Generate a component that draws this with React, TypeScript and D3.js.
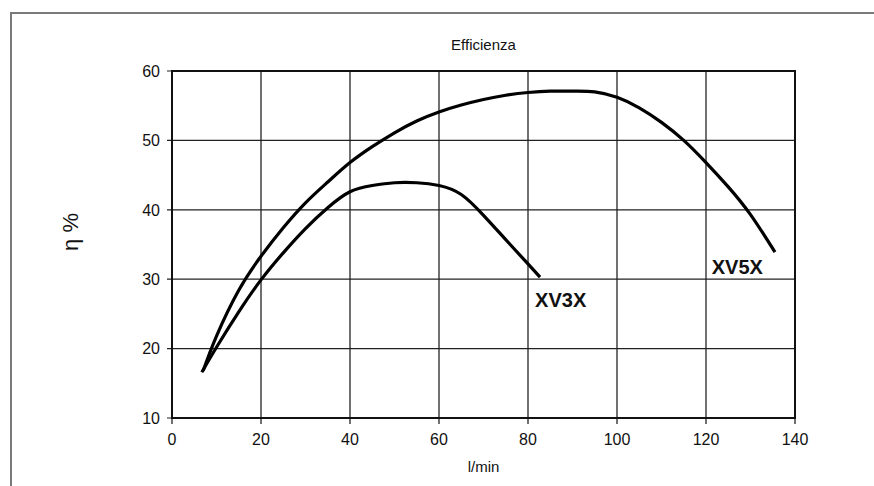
import React from "react";
import * as d3 from "d3";

// flow (l/min) and efficiency (%)
const xv3xFlow = [6.7, 10, 15, 20, 25, 30, 35, 40, 45, 50, 55, 60, 65, 70, 75, 80, 82.7];
const xv3xEta = [16.6, 20.2, 25.3, 29.9, 33.8, 37.3, 40.3, 42.6, 43.5, 43.9, 43.9, 43.5, 42.2, 39.2, 35.7, 32.2, 30.3];

const xv5xFlow = [7, 10, 15, 20, 25, 30, 35, 40, 45, 50, 55, 60, 65, 70, 75, 80, 85, 90, 95, 100, 105, 110, 115, 120, 125, 130, 135.5];
const xv5xEta = [16.8, 21.8, 28.4, 33.3, 37.4, 41.0, 44.0, 46.8, 49.1, 51.1, 52.8, 54.1, 55.1, 55.9, 56.5, 56.9, 57.1, 57.1, 57.0, 56.2, 54.7, 52.6, 50.0, 46.8, 43.3, 39.3, 33.9];

const xTicks = [0, 20, 40, 60, 80, 100, 120, 140];
const yTicks = [10, 20, 30, 40, 50, 60];

const seriesLabels = [
  { name: "XV3X", flow: 81.6, eta: 26.0 },
  { name: "XV5X", flow: 121.3, eta: 30.8 },
];

const W = 874;
const H = 486;
const left = 172, right = 795, top = 71, bottom = 418;

export default function App() {
  const x = d3.scaleLinear().domain([0, 140]).range([left, right]);
  const y = d3.scaleLinear().domain([10, 60]).range([bottom, top]);

  const line = d3
    .line<[number, number]>()
    .x((d) => x(d[0]))
    .y((d) => y(d[1]))
    .curve(d3.curveNatural);

  const xv3x = line(xv3xFlow.map((f, i) => [f, xv3xEta[i]] as [number, number]));
  const xv5x = line(xv5xFlow.map((f, i) => [f, xv5xEta[i]] as [number, number]));

  const font = "'Liberation Sans', Arial, sans-serif";

  return (
    <svg
      width={W}
      height={H}
      style={{ position: "absolute", left: 0, top: 0, background: "#fff" }}
      fontFamily={font}
    >
      <rect x={11} y={13} width={900} height={520} fill="none" stroke="#7a7a7a" strokeWidth={2} />

      {/* grid */}
      {xTicks.map((t) => (
        <line key={"gx" + t} x1={x(t)} x2={x(t)} y1={top} y2={bottom + 6} stroke="#111" strokeWidth={1.2} />
      ))}
      {yTicks.map((t) => (
        <line key={"gy" + t} x1={left - 5} x2={right} y1={y(t)} y2={y(t)} stroke="#222" strokeWidth={1.2} />
      ))}
      <rect x={left} y={top} width={right - left} height={bottom - top} fill="none" stroke="#111" strokeWidth={2} />

      {/* tick labels */}
      {yTicks.map((t) => (
        <text key={"ty" + t} x={left - 12} y={y(t)} dy="0.36em" textAnchor="end" fontSize={16} fill="#111">
          {t}
        </text>
      ))}
      {xTicks.map((t) => (
        <text key={"tx" + t} x={x(t)} y={bottom + 27} textAnchor="middle" fontSize={16} fill="#111">
          {t}
        </text>
      ))}

      <text x={(left + right) / 2} y={50} textAnchor="middle" fontSize={15} fill="#111">
        Efficienza
      </text>
      <text x={(left + right) / 2} y={472} textAnchor="middle" fontSize={15} fill="#111">
        l/min
      </text>
      <text
        transform={`translate(78,232) rotate(-90)`}
        textAnchor="middle"
        fontSize={22}
        fill="#111"
      >
        η %
      </text>

      <path d={xv3x ?? ""} fill="none" stroke="#000" strokeWidth={3.2} strokeLinejoin="round" />
      <path d={xv5x ?? ""} fill="none" stroke="#000" strokeWidth={3.2} strokeLinejoin="round" />

      {seriesLabels.map((s) => (
        <text key={s.name} x={x(s.flow)} y={y(s.eta)} fontSize={20} fontWeight="bold" fill="#111">
          {s.name}
        </text>
      ))}
    </svg>
  );
}
